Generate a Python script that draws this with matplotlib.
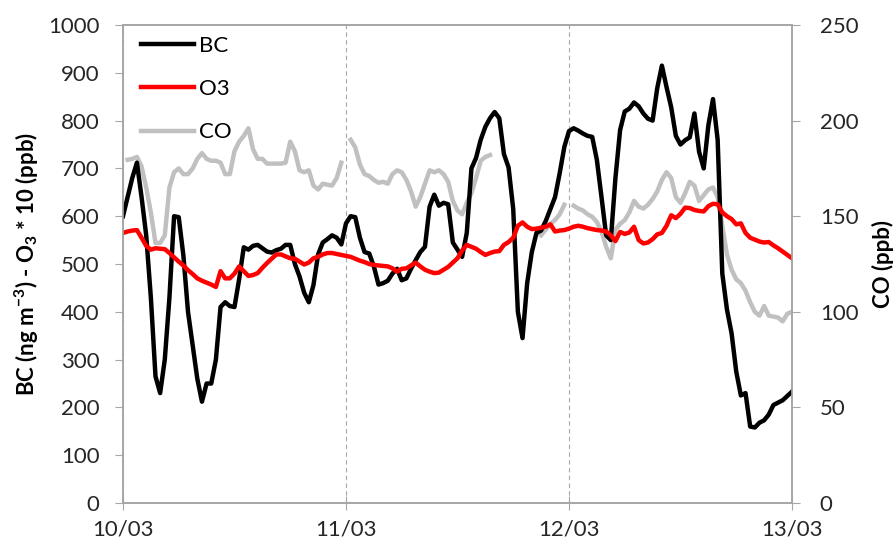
import numpy as np
import pandas as pd
import matplotlib
matplotlib.use("Agg")
import matplotlib.pyplot as plt
import matplotlib.dates as mdates

# half-hourly samples, 10/03 00:00 -> 13/03 00:00
times = pd.date_range("2013-03-10", periods=145, freq="30min")

bc = [600, 640, 680, 712, 640, 560, 430, 265, 230, 300, 430, 600,
      598, 518, 400, 330, 260, 212, 250, 250, 300, 410, 420, 412,
      410, 468, 535, 530, 538, 540, 533, 526, 524, 529, 532, 540,
      540, 500, 474, 440, 420, 456, 520, 545, 552, 560, 555, 541,
      585, 600, 598, 555, 525, 522, 495, 457, 460, 465, 480, 490,
      466, 470, 490, 508, 525, 536, 620, 645, 622, 628, 625, 545,
      530, 515, 565, 700, 722, 760, 787, 805, 818, 805, 730, 702,
      615, 400, 345, 460, 525, 565, 570, 590, 615, 640, 690, 745,
      778, 784, 779, 773, 768, 766, 718, 640, 560, 550, 680, 780,
      819, 825, 838, 830, 815, 804, 800, 868, 915, 870, 828, 768,
      750, 759, 765, 815, 735, 700, 790, 845, 760, 480, 405, 355,
      275, 225, 230, 160, 158, 168, 173, 185, 205, 210, 215, 224,
      233]

# O3 in ppb (plotted x10)
o3 = [56.5, 56.8, 57.0, 57.1, 55.5, 53.8, 53.0, 53.3, 53.2, 53.1, 52.3, 51.4,
      50.5, 49.7, 48.7, 47.9, 47.0, 46.5, 46.1, 45.7, 45.2, 48.5, 47.0, 47.0,
      48.0, 49.5, 48.5, 47.5, 47.7, 48.1, 49.2, 50.2, 51.1, 52.0, 52.0, 51.6,
      51.2, 51.1, 50.5, 49.9, 50.3, 51.2, 51.5, 52.0, 52.3, 52.3, 52.1, 51.9,
      51.7, 51.5, 51.1, 50.7, 50.4, 50.0, 49.8, 49.7, 49.6, 49.5, 49.1, 48.4,
      49.0, 49.1, 49.7, 50.3, 49.5, 48.8, 48.4, 48.1, 48.2, 48.8, 49.4, 50.3,
      51.2, 52.8, 54.0, 53.6, 53.2, 52.5, 51.9, 52.3, 52.6, 52.7, 54.0, 54.6,
      55.5, 58.0, 58.7, 57.8, 57.3, 57.4, 57.6, 57.8, 58.3, 56.8, 57.0, 57.1,
      57.4, 57.8, 58.0, 57.8, 57.5, 57.3, 57.1, 57.0, 56.8, 56.0, 54.8, 56.7,
      56.3, 56.6, 57.8, 55.0, 54.3, 54.5, 55.2, 56.2, 56.5, 58.0, 60.2, 59.6,
      60.5, 61.8, 61.7, 61.3, 61.1, 61.0, 62.1, 62.6, 62.5, 60.8, 60.0, 59.4,
      58.3, 58.5, 56.5, 55.5, 55.1, 54.7, 54.5, 54.6, 53.9, 53.3, 52.6, 51.9,
      51.2]

nan = np.nan
co = [nan, 179.5, 180, 181, 176, 165, 152, 136, 136, 140, 165, 173,
      175, 172, 172, 175, 180, 183, 180, 179, 179, 178, 172, 172,
      184, 189, 192, 196, 185, 180, 180, 177.5, 177.5, 177.5, 177.5, 178,
      189, 184, 174, 173, 174, 166, 164, 167, 166.5, 166, 170, 178,
      nan, 190, 186, 177, 172, 171, 169, 167.5, 168, 167, 172, 174,
      173, 169, 163, 155, 160, 167, 174, 173, 174, 172, 168, 158,
      153, 151, 157, 162, 170, 179, 181, 182, nan, nan, nan, nan,
      nan, nan, nan, nan, nan, nan, 140, 143, 146, 148, 151, 156,
      nan, 155.5, 154, 153, 151, 149.7, 147, 142, 134, 128, 143, 146,
      148, 152, 158, 155, 154, 156, 159, 163, 169, 173, 170, 160,
      157, 162, 168, 166, 158, 161, 164, 165, 160, 145, 130, 122,
      117, 115, 111, 105, 100, 98, 103, 98, 97.5, 97, 95, 99,
      100]

plt.rcParams['font.family'] = ['Lato', 'DejaVu Sans']
plt.rcParams['mathtext.fontset'] = 'custom'
plt.rcParams['mathtext.rm'] = 'Lato:bold'
plt.rcParams['mathtext.default'] = 'rm'

spine_col = '#a6a6a6'
fs = 16

fig = plt.figure(figsize=(8.95, 5.51), dpi=100)
ax = fig.add_axes([0.1374, 0.0871, 0.7475, 0.8675])
ax2 = ax.twinx()

ax2.plot(times, co, color='#c0c0c0', lw=3.2, label='CO', solid_joinstyle='round')
l1, = ax.plot(times, bc, color='black', lw=3.2, label='BC', solid_joinstyle='round')
l2, = ax.plot(times, np.array(o3) * 10, color='#ff0000', lw=3.2, label='O3', solid_joinstyle='round')
l3 = ax2.get_lines()[0]

ax.set_zorder(ax2.get_zorder() + 1)
ax.patch.set_visible(False)

ax.set_ylim(0, 1000)
ax.set_yticks(np.arange(0, 1001, 100))
ax2.set_ylim(0, 250)
ax2.set_yticks(np.arange(0, 251, 50))
ax.set_xlim(times[0], times[-1])
ax.xaxis.set_major_locator(mdates.DayLocator())
ax.xaxis.set_major_formatter(mdates.DateFormatter('%d/%m'))

ax.grid(axis='x', color=spine_col, linestyle=(0, (4, 3)), lw=0.8)

for a in (ax, ax2):
    for s in a.spines.values():
        s.set_color(spine_col)
        s.set_linewidth(1.2)
ax.tick_params(axis='y', direction='out', length=6, color=spine_col, labelsize=fs, labelcolor='#262626', pad=11)
ax.tick_params(axis='x', direction='inout', length=10, color=spine_col, labelsize=fs, labelcolor='#262626', pad=7)
ax2.tick_params(axis='y', direction='out', length=6, color=spine_col, labelsize=fs, labelcolor='#262626', pad=14)

ax.set_ylabel(r'BC (ng m$^{-3}$) - O$_{3}$ * 10 (ppb)', fontsize=fs, fontweight='bold', labelpad=5)
ax2.set_ylabel('CO (ppb)', fontsize=fs, fontweight='bold', labelpad=10)

ax.legend([l1, l2, l3], ['BC', 'O3', 'CO'], loc='upper left', frameon=False, fontsize=fs,
          handlelength=2.4, handletextpad=0.2, labelspacing=1.05,
          bbox_to_anchor=(0.0, 1.015), borderaxespad=0.4)

fig.savefig('out.png', dpi=100)
